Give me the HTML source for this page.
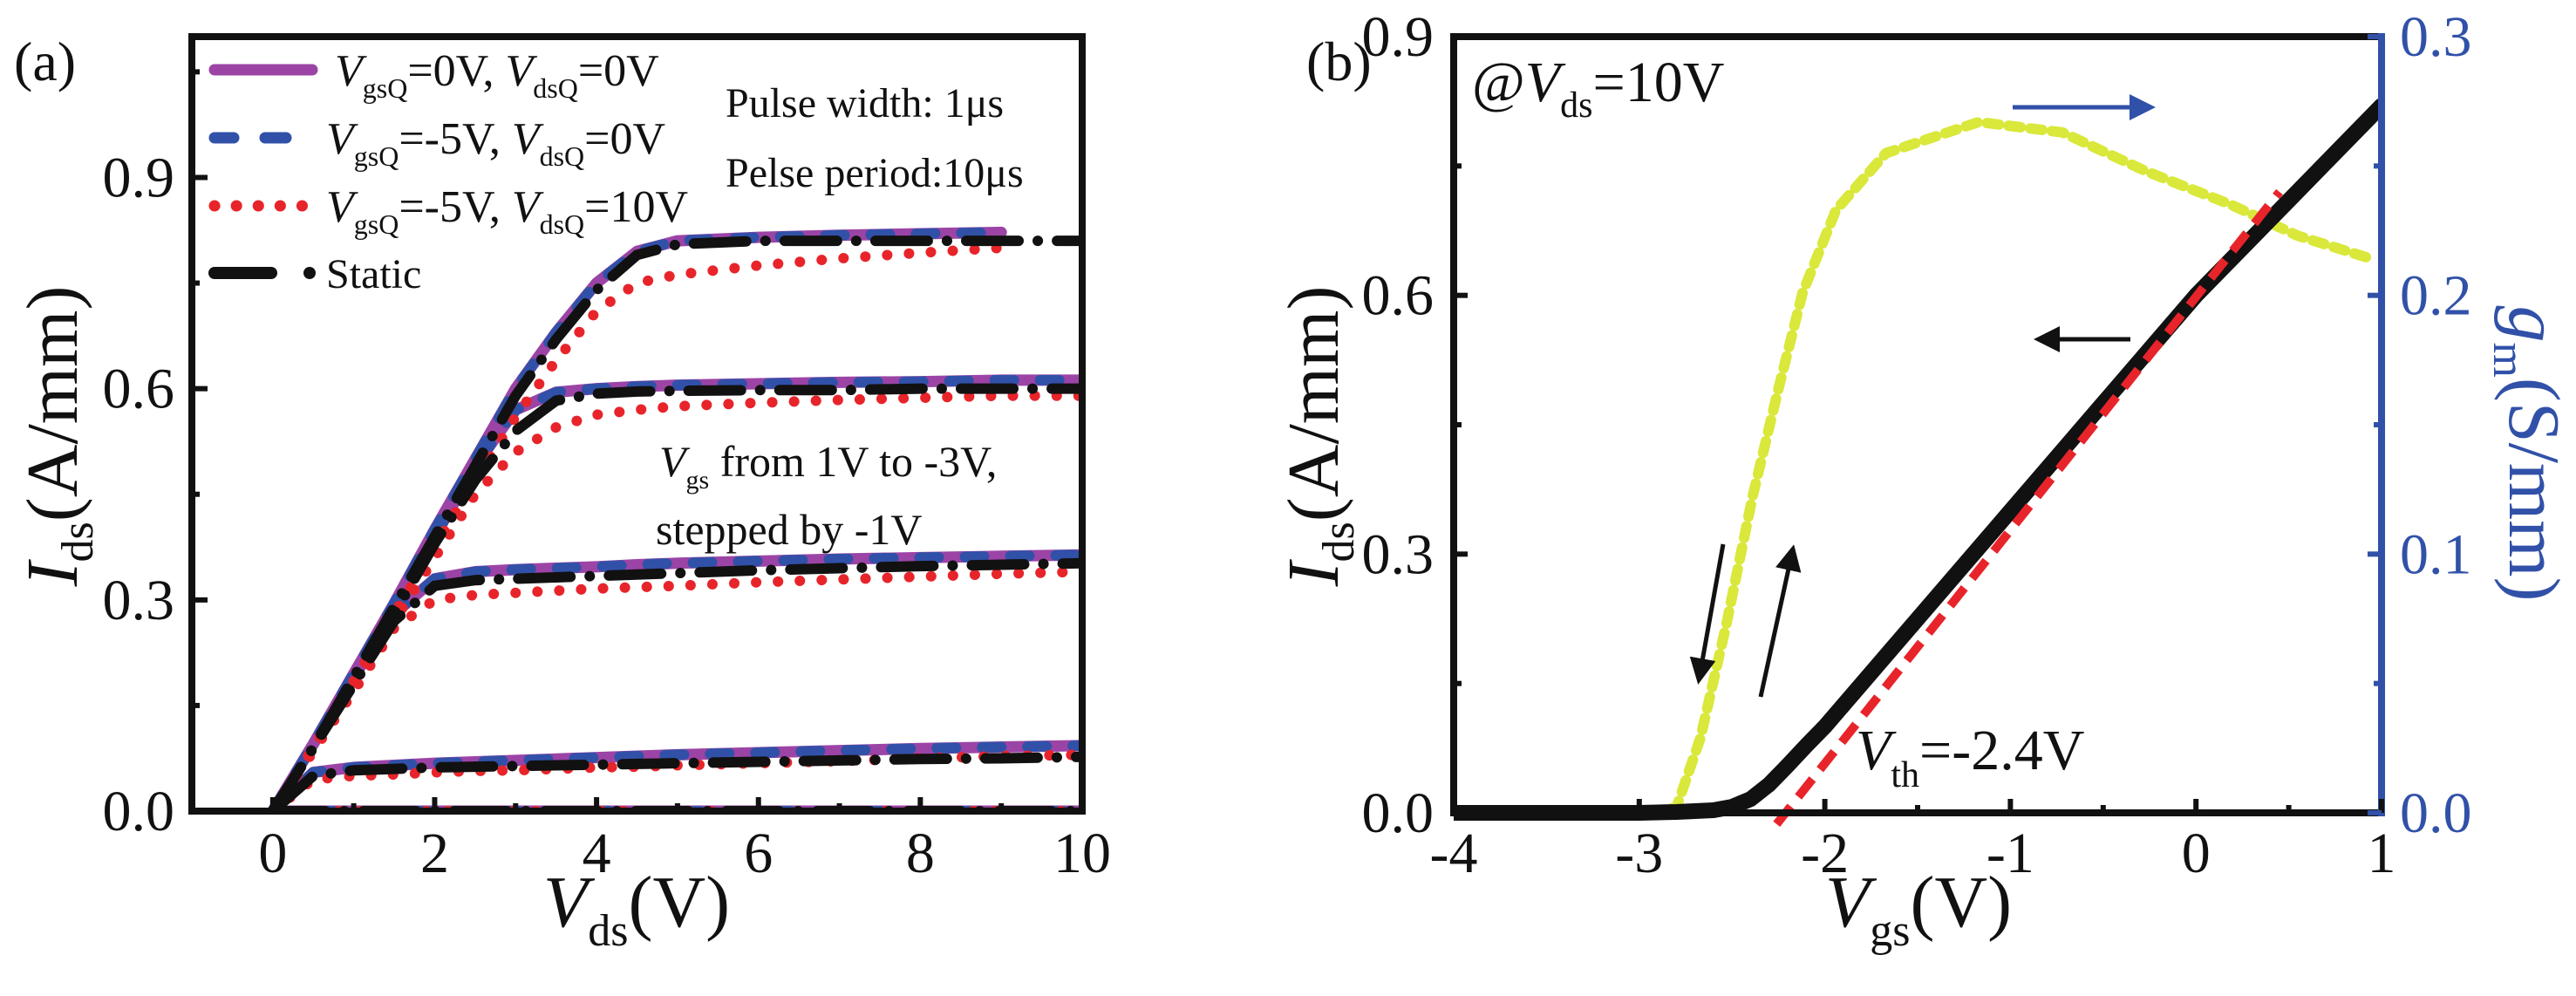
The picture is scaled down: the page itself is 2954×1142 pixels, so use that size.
<!DOCTYPE html>
<html><head><meta charset="utf-8"><style>
html,body{margin:0;padding:0;background:#fff}
svg{display:block}
text,tspan{font-family:"Liberation Serif","DejaVu Serif","Times New Roman",serif}
</style></head><body>
<svg id="fig" xmlns="http://www.w3.org/2000/svg" width="2954" height="1142" viewBox="0 0 2954 1142">
<g id="pa"></g>
<g id="pb"></g>
</svg>
<script>
// ---------- Panel (a) data ----------
const vdsA = [0,0.5,1,1.5,2,2.5,3,3.5,4,4.5,5,6,7,8,9,10];
const staticA = [
 [0,0.09,0.19,0.29,0.39,0.49,0.59,0.67,0.74,0.79,0.805,0.81,0.81,0.81,0.81,0.81],
 [0,0.09,0.19,0.28,0.38,0.47,0.54,0.583,0.593,0.596,0.597,0.598,0.598,0.6,0.6,0.6],
 [0,0.09,0.18,0.27,0.32,0.328,0.33,0.332,0.334,0.336,0.338,0.342,0.345,0.348,0.35,0.352],
 [0,0.05,0.058,0.06,0.062,0.063,0.064,0.065,0.066,0.067,0.068,0.07,0.072,0.074,0.075,0.077],
 [0,0,0,0,0,0,0,0,0,0,0,0,0,0,0,0]];
const pulse0A = [
 [0,0.095,0.195,0.295,0.4,0.5,0.6,0.68,0.75,0.795,0.81,0.815,0.818,0.82,0.822,null],
 [0,0.095,0.195,0.29,0.39,0.49,0.57,0.595,0.6,0.603,0.605,0.607,0.609,0.61,0.612,0.612],
 [0,0.095,0.19,0.28,0.33,0.34,0.343,0.345,0.347,0.35,0.352,0.355,0.358,0.36,0.362,0.364],
 [0,0.055,0.062,0.065,0.068,0.07,0.072,0.074,0.076,0.078,0.08,0.083,0.086,0.089,0.091,0.093],
 [0,0,0,0,0,0,0,0,0,0,0,0,0,0,0,0]];
const pulse10A = [
 [0,0.09,0.185,0.28,0.375,0.47,0.56,0.64,0.71,0.75,0.762,0.775,0.785,0.793,0.8,null],
 [0,0.085,0.18,0.27,0.36,0.45,0.51,0.545,0.563,0.57,0.575,0.58,0.584,0.587,0.59,0.59],
 [0,0.085,0.17,0.26,0.3,0.307,0.31,0.313,0.316,0.318,0.32,0.325,0.329,0.333,0.337,0.34],
 [0,0.045,0.05,0.052,0.055,0.057,0.058,0.06,0.062,0.063,0.065,0.068,0.071,0.075,0.078,0.08],
 [0,0,0,0,0,0,0,0,0,0,0,0,0,0,0,0]];
const xTicksA = [0,2,4,6,8,10];
const yTicksA = [0.0,0.3,0.6,0.9];

// ---------- Panel (b) data ----------
const vgsB = [-4,-3,-2.8,-2.6,-2.5,-2.4,-2.3,-2.2,-2.1,-2,-1.5,-1,-0.5,0,0.5,1];
const idsB = [0,0,0.001,0.003,0.007,0.016,0.033,0.055,0.078,0.1,0.225,0.35,0.475,0.6,0.71,0.82];
const fitX = [-2.26,0.45];
const fitY = [-0.013,0.72];
const gmX = [-4,-3.5,-3,-2.8,-2.67,-2.53,-2.39,-2.26,-2.12,-1.94,-1.67,-1.17,-0.72,-0.27,0.19,0.55,0.95];
const gmY = [0,0,0,0.002,0.029,0.073,0.122,0.161,0.201,0.233,0.255,0.267,0.263,0.248,0.235,0.223,0.214];
const xTicksB = [-4,-3,-2,-1,0,1];
const yTicksB = [0.0,0.3,0.6,0.9];
const yTicksR = [0.0,0.1,0.2,0.3];

const NS="http://www.w3.org/2000/svg";
function mk(tag, parent, attrs){const e=document.createElementNS(NS,tag);for(const k in attrs)e.setAttribute(k,attrs[k]);parent.appendChild(e);return e;}

const A={x0:220,x1:1241,y0:930,y1:42,xmin:-1,xmax:10,ymin:0,ymax:1.1};
const ax=v=>A.x0+(v-A.xmin)/(A.xmax-A.xmin)*(A.x1-A.x0);
const ay=v=>A.y0-(v-A.ymin)/(A.ymax-A.ymin)*(A.y0-A.y1);
const B={x0:1667,x1:2731,y0:932,y1:42,xmin:-4,xmax:1};
const bx=v=>B.x0+(v-B.xmin)/(B.xmax-B.xmin)*(B.x1-B.x0);
const by=v=>B.y0-v/0.9*(B.y0-B.y1);
const byR=v=>B.y0-v/0.3*(B.y0-B.y1);

function pathFrom(xs,ys,fx,fy){let d="";let started=false;for(let i=0;i<xs.length;i++){if(ys[i]==null)continue;d+=(started?"L":"M")+fx(xs[i]).toFixed(1)+" "+fy(ys[i]).toFixed(1);started=true;}return d;}

// ----- Panel A -----
const pa=document.getElementById('pa');
const clipA=mk('clipPath',pa,{id:'clipA'});mk('rect',clipA,{x:A.x0,y:A.y1,width:A.x1-A.x0,height:A.y0-A.y1});
const curvesA=mk('g',pa,{'clip-path':'url(#clipA)'});


pulse0A.forEach(ys=>{
  const p=mk('path',curvesA,{d:pathFrom(vdsA,ys,ax,ay),fill:'none',stroke:'#9b44a6','stroke-width':13,'stroke-linecap':'round','stroke-linejoin':'round'});
  
  
});
pulse0A.forEach(ys=>{
  const p=mk('path',curvesA,{d:pathFrom(vdsA,ys,ax,ay),fill:'none',stroke:'#3151a8','stroke-width':12,'stroke-linecap':'round','stroke-dasharray':'22 30'});
  
  
});
pulse10A.forEach(ys=>{
  const p=mk('path',curvesA,{d:pathFrom(vdsA,ys,ax,ay),fill:'none',stroke:'#e8242b','stroke-width':12,'stroke-linecap':'round','stroke-dasharray':'0.1 25'});
  
  
});
staticA.forEach(ys=>{
  const p=mk('path',curvesA,{d:pathFrom(vdsA,ys,ax,ay),fill:'none',stroke:'#111','stroke-width':12,'stroke-linecap':'round','stroke-dasharray':'60 22 0.1 22'});
  
  
});
const frA=mk('rect',pa,{x:A.x0,y:A.y1,width:A.x1-A.x0,height:A.y0-A.y1,fill:'none',stroke:'#111','stroke-width':8});


xTicksA.forEach(v=>{
  mk('line',pa,{x1:ax(v),x2:ax(v),y1:A.y0,y2:A.y0-16,stroke:'#111','stroke-width':6});
  mk('line',pa,{x1:ax(v-1),x2:ax(v-1),y1:A.y0,y2:A.y0-9,stroke:'#111','stroke-width':6});
  const t=mk('text',pa,{x:ax(v),y:1000,'font-size':66,'text-anchor':'middle',fill:'#111'});t.textContent=String(v);
  
  
});
yTicksA.forEach(v=>{
  mk('line',pa,{x1:A.x0,x2:A.x0+18,y1:ay(v),y2:ay(v),stroke:'#111','stroke-width':6});
  mk('line',pa,{x1:A.x0,x2:A.x0+9,y1:ay(v+0.15),y2:ay(v+0.15),stroke:'#111','stroke-width':6});
  const t=mk('text',pa,{x:200,y:ay(v)+22,'font-size':66,'text-anchor':'end',fill:'#111'});t.textContent=v.toFixed(1);
  
  
});

// ----- Panel B -----
const pb=document.getElementById('pb');
const clipB=mk('clipPath',pb,{id:'clipB'});mk('rect',clipB,{x:B.x0,y:B.y1,width:B.x1-B.x0,height:B.y0-B.y1+40});
const curvesB=mk('g',pb,{'clip-path':'url(#clipB)'});


const gm=mk('path',curvesB,{d:pathFrom(gmX,gmY,bx,byR),fill:'none',stroke:'#d9e83a','stroke-width':12,'stroke-linecap':'round','stroke-linejoin':'round','stroke-dasharray':'14 11'});


const ids=mk('path',curvesB,{d:pathFrom(vgsB,idsB,bx,by),fill:'none',stroke:'#111','stroke-width':18,'stroke-linecap':'round','stroke-linejoin':'round'});


const fit=mk('path',curvesB,{d:pathFrom(fitX,fitY,bx,by),fill:'none',stroke:'#e8242b','stroke-width':10,'stroke-dasharray':'26 14'});


mk('line',pb,{x1:B.x0,x2:B.x1,y1:B.y1,y2:B.y1,stroke:'#111','stroke-width':8});
mk('line',pb,{x1:B.x0,x2:B.x1,y1:B.y0,y2:B.y0,stroke:'#111','stroke-width':8});
mk('line',pb,{x1:B.x0,x2:B.x0,y1:B.y1-4,y2:B.y0+4,stroke:'#111','stroke-width':8});
const ra=mk('line',pb,{x1:B.x1,x2:B.x1,y1:B.y1-4,y2:B.y0+4,stroke:'#3151a8','stroke-width':8});


xTicksB.forEach(v=>{
  mk('line',pb,{x1:bx(v),x2:bx(v),y1:B.y0,y2:B.y0-16,stroke:'#111','stroke-width':6});
  if(v<1) mk('line',pb,{x1:bx(v+0.5),x2:bx(v+0.5),y1:B.y0,y2:B.y0-9,stroke:'#111','stroke-width':6});
  const t=mk('text',pb,{x:bx(v),y:1000,'font-size':66,'text-anchor':'middle',fill:'#111'});t.textContent=String(v);
  
  
});
yTicksB.forEach(v=>{
  mk('line',pb,{x1:B.x0,x2:B.x0+16,y1:by(v),y2:by(v),stroke:'#111','stroke-width':6});
  if(v<0.9) mk('line',pb,{x1:B.x0,x2:B.x0+9,y1:by(v+0.15),y2:by(v+0.15),stroke:'#111','stroke-width':6});
  const t=mk('text',pb,{x:1644,y:by(v)+22,'font-size':66,'text-anchor':'end',fill:'#111'});t.textContent=v.toFixed(1);
  
  
});
yTicksR.forEach(v=>{
  mk('line',pb,{x1:B.x1,x2:B.x1-16,y1:byR(v),y2:byR(v),stroke:'#3151a8','stroke-width':6});
  if(v<0.3) mk('line',pb,{x1:B.x1,x2:B.x1-9,y1:byR(v+0.05),y2:byR(v+0.05),stroke:'#3151a8','stroke-width':6});
  const t=mk('text',pb,{x:2752,y:byR(v)+22,'font-size':66,'text-anchor':'start',fill:'#3151a8'});t.textContent=v.toFixed(1);
  
  
});
</script>

<svg xmlns="http://www.w3.org/2000/svg" width="2954" height="1142" style="position:absolute;left:0;top:0">
<defs>
<marker id="ahK" markerWidth="6" markerHeight="6" refX="4" refY="3" orient="auto" markerUnits="strokeWidth"><path d="M0,0 L6,3 L0,6 z" fill="#111"/></marker>
<marker id="ahB" markerWidth="6" markerHeight="6" refX="4" refY="3" orient="auto" markerUnits="strokeWidth"><path d="M0,0 L6,3 L0,6 z" fill="#3151a8"/></marker>
</defs>
<text x="16" y="92" font-size="64" fill="#111">(a)</text>
<text x="1498" y="92" font-size="64" fill="#111">(b)</text>

<g>
<line x1="246" y1="80" x2="358" y2="80" stroke="#9b44a6" stroke-width="13" stroke-linecap="round"/>
<line x1="246" y1="158" x2="268" y2="158" stroke="#3151a8" stroke-width="13" stroke-linecap="round"/>
<line x1="304" y1="158" x2="328" y2="158" stroke="#3151a8" stroke-width="13" stroke-linecap="round"/>
<line x1="246" y1="236" x2="354" y2="236" stroke="#e8242b" stroke-width="13" stroke-linecap="round" stroke-dasharray="0.1 25"/>
<line x1="246" y1="313" x2="311" y2="313" stroke="#111" stroke-width="14" stroke-linecap="round"/>
<circle cx="355" cy="313" r="7" fill="#111"/>
<text x="384" y="98" font-size="52" fill="#111"><tspan font-style="italic">V</tspan><tspan font-size="32" dy="14">gsQ</tspan><tspan dy="-14">=0V, </tspan><tspan font-style="italic">V</tspan><tspan font-size="32" dy="14">dsQ</tspan><tspan dy="-14">=0V</tspan></text>
<text x="374" y="176" font-size="52" fill="#111"><tspan font-style="italic">V</tspan><tspan font-size="32" dy="14">gsQ</tspan><tspan dy="-14">=-5V, </tspan><tspan font-style="italic">V</tspan><tspan font-size="32" dy="14">dsQ</tspan><tspan dy="-14">=0V</tspan></text>
<text x="374" y="254" font-size="52" fill="#111"><tspan font-style="italic">V</tspan><tspan font-size="32" dy="14">gsQ</tspan><tspan dy="-14">=-5V, </tspan><tspan font-style="italic">V</tspan><tspan font-size="32" dy="14">dsQ</tspan><tspan dy="-14">=10V</tspan></text>
<text x="374" y="330" font-size="48" fill="#111">Static</text>
</g>
<text x="832" y="134" font-size="48" fill="#111">Pulse width: 1μs</text>
<text x="832" y="214" font-size="48" fill="#111">Pelse period:10μs</text>
<text x="756" y="546" font-size="50" fill="#111"><tspan font-style="italic">V</tspan><tspan font-size="30" dy="14">gs</tspan><tspan dy="-14"> from 1V to -3V,</tspan></text>
<text x="752" y="624" font-size="50" fill="#111">stepped by -1V</text>

<text transform="translate(88,500) rotate(-90)" font-size="84" text-anchor="middle" fill="#111"><tspan font-style="italic">I</tspan><tspan font-size="52" dy="18">ds</tspan><tspan dy="-18">(A/mm)</tspan></text>
<text x="730" y="1062" font-size="84" text-anchor="middle" fill="#111"><tspan font-style="italic">V</tspan><tspan font-size="52" dy="22">ds</tspan><tspan dy="-22">(V)</tspan></text>

<text transform="translate(1534,500) rotate(-90)" font-size="84" text-anchor="middle" fill="#111"><tspan font-style="italic">I</tspan><tspan font-size="52" dy="18">ds</tspan><tspan dy="-18">(A/mm)</tspan></text>
<text x="2200" y="1062" font-size="84" text-anchor="middle" fill="#111"><tspan font-style="italic">V</tspan><tspan font-size="52" dy="22">gs</tspan><tspan dy="-22">(V)</tspan></text>
<text transform="translate(2878,520) rotate(90)" font-size="84" text-anchor="middle" fill="#3151a8"><tspan font-style="italic">g</tspan><tspan font-size="52" dy="18">m</tspan><tspan dy="-18">(S/mm)</tspan></text>

<text x="1688" y="116" font-size="66" fill="#111">@<tspan font-style="italic">V</tspan><tspan font-size="42" dy="18">ds</tspan><tspan dy="-18">=10V</tspan></text>
<text x="2128" y="882" font-size="66" fill="#111"><tspan font-style="italic">V</tspan><tspan font-size="42" dy="20">th</tspan><tspan dy="-20">=-2.4V</tspan></text>

<line x1="2308" y1="123" x2="2462" y2="123" stroke="#3151a8" stroke-width="5" marker-end="url(#ahB)"/>
<line x1="2443" y1="389" x2="2342" y2="389" stroke="#111" stroke-width="5" marker-end="url(#ahK)"/>
<line x1="1976" y1="624" x2="1949" y2="775" stroke="#111" stroke-width="5" marker-end="url(#ahK)"/>
<line x1="2019" y1="799" x2="2055" y2="634" stroke="#111" stroke-width="5" marker-end="url(#ahK)"/>
</svg>
</body></html>
